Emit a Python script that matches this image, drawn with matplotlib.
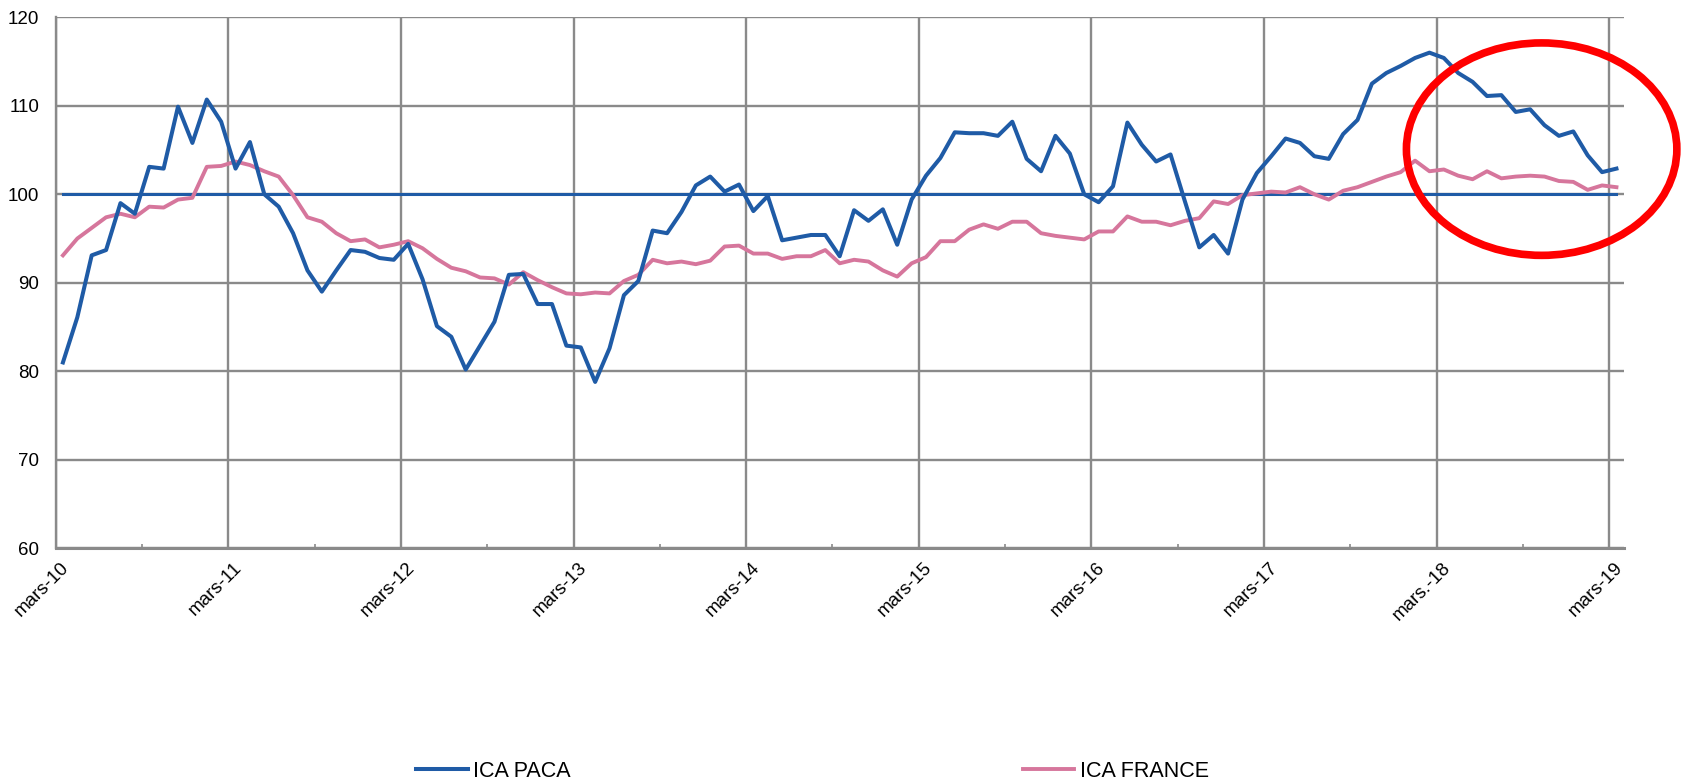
import matplotlib
matplotlib.use("Agg")
import matplotlib.pyplot as plt
import matplotlib.transforms as mtransforms
from matplotlib.patches import Ellipse

plt.rcParams['font.family'] = ['Liberation Sans', 'DejaVu Sans']

# monthly values, mars-10 .. mars-19
ica_paca = [81.0, 86.1, 93.1, 93.7, 99.0, 97.8, 103.1, 102.9, 109.9, 105.8, 110.7, 108.2,
            102.9, 105.9, 100.0, 98.6, 95.6, 91.4, 89.0, 91.4, 93.7, 93.5,
            92.8, 92.6, 94.4, 90.4, 85.1, 83.9, 80.2, 82.9, 85.6, 90.9, 91.0, 87.6,
            87.6, 82.9, 82.7, 78.8, 82.6, 88.6, 90.2, 95.9, 95.6, 98.0,
            101.0, 102.0, 100.3, 101.1, 98.1, 99.8, 94.8, 95.1, 95.4, 95.4, 93.0,
            98.2, 97.0, 98.3, 94.3, 99.4, 102.1, 104.1, 107.0, 106.9, 106.9,
            106.6, 108.2, 104.0, 102.6, 106.6, 104.6, 100.0, 99.1, 100.9, 108.1, 105.6,
            103.7, 104.5, 99.2, 94.0, 95.4, 93.3, 99.4, 102.4, 104.3, 106.3, 105.8,
            104.3, 104.0, 106.8, 108.4, 112.5, 113.7, 114.5, 115.4, 116.0, 115.4, 113.7,
            112.7, 111.1, 111.2, 109.3, 109.6, 107.8, 106.6, 107.1, 104.4, 102.5, 102.9]

ica_france = [93.1, 95.0, 96.2, 97.4, 97.8, 97.4, 98.6, 98.5, 99.4, 99.6, 103.1, 103.2,
              103.7, 103.3, 102.6, 102.0, 99.9, 97.4, 96.9, 95.6, 94.7, 94.9,
              94.0, 94.3, 94.7, 93.9, 92.7, 91.7, 91.3, 90.6, 90.5, 89.8, 91.2, 90.3,
              89.5, 88.8, 88.7, 88.9, 88.8, 90.2, 90.9, 92.6, 92.2, 92.4,
              92.1, 92.5, 94.1, 94.2, 93.3, 93.3, 92.7, 93.0, 93.0, 93.7, 92.2,
              92.6, 92.4, 91.4, 90.7, 92.2, 92.9, 94.7, 94.7, 96.0, 96.6,
              96.1, 96.9, 96.9, 95.6, 95.3, 95.1, 94.9, 95.8, 95.8, 97.5, 96.9,
              96.9, 96.5, 97.0, 97.3, 99.2, 98.9, 99.9, 100.1, 100.3, 100.2, 100.8,
              100.0, 99.4, 100.4, 100.8, 101.4, 102.0, 102.5, 103.8, 102.6, 102.8, 102.1,
              101.7, 102.6, 101.8, 102.0, 102.1, 102.0, 101.5, 101.4, 100.5, 101.0, 100.8]

base_100 = [100] * len(ica_paca)

tick_labels = ['mars-10', 'mars-11', 'mars-12', 'mars-13', 'mars-14',
               'mars-15', 'mars-16', 'mars-17', 'mars.-18', 'mars-19']

blue = '#1f5ba6'
pink = '#d6769c'
grid_grey = '#8a8a8a'

n = len(ica_paca)
x = [i + 0.5 for i in range(n)]   # points sit in the middle of each month
year_ticks = list(range(0, n, 12))

fig = plt.figure(figsize=(16.89, 7.84), dpi=100)
ax = fig.add_axes([0.033, 0.3006, 0.9283, 0.6774])

ax.plot(x, base_100, color=blue, lw=2.2, zorder=3)
l1, = ax.plot(x, ica_paca, color=blue, lw=2.9, zorder=4, label='ICA PACA')
l2, = ax.plot(x, ica_france, color=pink, lw=2.8, zorder=3, label='ICA FRANCE')

ax.set_xlim(0, n)
ax.set_ylim(60, 120)
ax.set_yticks(range(60, 121, 10))
ax.set_xticks(year_ticks)
ax.set_xticklabels([])
ax.set_xticks(range(6, n, 12), minor=True)

# rotated year labels, shifted a little right of the gridline (Excel style)
offset = mtransforms.ScaledTranslation(0.11, -0.17, fig.dpi_scale_trans)
for pos, lab in zip(year_ticks, tick_labels):
    ax.text(pos, 0, lab, transform=ax.get_xaxis_transform() + offset,
            rotation=45, ha='right', va='center', rotation_mode='anchor',
            fontsize=13.5)

ax.grid(True, which='major', color=grid_grey, lw=1.7)
ax.set_axisbelow(True)
ax.tick_params(axis='x', which='major', length=0)
ax.tick_params(axis='x', which='minor', direction='in', length=3,
               width=1.2, color=grid_grey)
ax.tick_params(axis='y', length=0, pad=12, labelsize=13.5)

for side in ['top', 'right']:
    ax.spines[side].set_visible(False)
ax.spines['left'].set_color(grid_grey)
ax.spines['left'].set_linewidth(1.7)
ax.spines['bottom'].set_color(grid_grey)
ax.spines['bottom'].set_linewidth(2.2)

# red highlight round the last year
ax.add_patch(Ellipse((103.3, 105.1), 18.8, 24.0, fill=False, edgecolor='#ff0000',
                     lw=5.5, clip_on=False, zorder=6))

leg = fig.legend(handles=[l1, l2], loc='center', bbox_to_anchor=(0.481, 0.016), ncol=2,
                 frameon=False, fontsize=15.5, columnspacing=21, handlelength=2.4,
                 handletextpad=0.25)

fig.savefig('out.png', dpi=100)
